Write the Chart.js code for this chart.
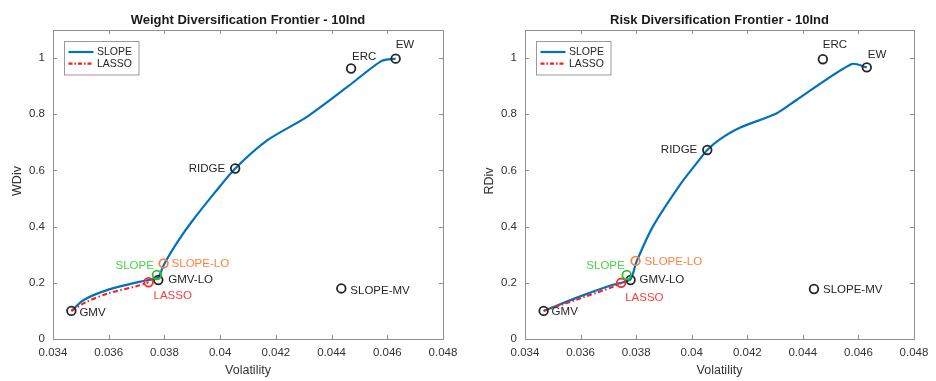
<!DOCTYPE html>
<html><head><meta charset="utf-8">
<script src="https://cdn.jsdelivr.net/npm/chart.js@4/dist/chart.umd.min.js"></script>
<style>
html,body{margin:0;padding:0;background:#fff;}
#wrap{position:relative;width:936px;height:381px;overflow:hidden;}
canvas{position:absolute;top:0;}
</style></head><body>
<div id="wrap">
<canvas id="cW" width="466" height="381" style="left:0"></canvas>
<canvas id="cR" width="470" height="381" style="left:466px"></canvas>
</div>
<script>
// ---------- data ----------
const xTicks = [0.034, 0.036, 0.038, 0.040, 0.042, 0.044, 0.046, 0.048];
const yTicks = [0, 0.2, 0.4, 0.6, 0.8, 1.0];

const portfolioNames = ['GMV', 'GMV-LO', 'LASSO', 'SLOPE', 'SLOPE-LO', 'RIDGE', 'SLOPE-MV', 'ERC', 'EW'];

// Weight diversification frontier
const wSlopeVol = [0.03466, 0.0351, 0.03594, 0.03713, 0.03773, 0.0378, 0.0380, 0.0385, 0.0390, 0.0398, 0.04054, 0.0417, 0.0431, 0.0446, 0.0458, 0.0463];
const wSlopeDiv = [0.100, 0.139, 0.174, 0.204, 0.216, 0.222, 0.268, 0.350, 0.420, 0.520, 0.607, 0.708, 0.790, 0.900, 0.990, 0.998];
const wLassoVol = [0.03466, 0.0352, 0.0360, 0.0370, 0.03743];
const wLassoDiv = [0.100, 0.132, 0.163, 0.188, 0.202];
const wPortVol  = [0.03466, 0.03778, 0.03743, 0.03773, 0.03797, 0.04054, 0.04435, 0.0447, 0.0463];
const wPortDiv  = [0.100, 0.210, 0.202, 0.228, 0.269, 0.607, 0.180, 0.963, 0.998];

// Risk diversification frontier
const rSlopeVol = [0.03467, 0.03594, 0.03713, 0.03779, 0.0380, 0.0386, 0.03957, 0.04017, 0.04056, 0.0410, 0.04173, 0.04305, 0.04376, 0.04576, 0.0463];
const rSlopeDiv = [0.100, 0.150, 0.192, 0.212, 0.272, 0.400, 0.548, 0.625, 0.673, 0.710, 0.752, 0.803, 0.850, 0.979, 0.967];
const rLassoVol = [0.03467, 0.0360, 0.0372, 0.03746];
const rLassoDiv = [0.100, 0.145, 0.187, 0.200];
const rPortVol  = [0.03467, 0.0378, 0.03746, 0.03766, 0.03798, 0.04056, 0.0444, 0.04472, 0.0463];
const rPortDiv  = [0.100, 0.210, 0.200, 0.228, 0.278, 0.673, 0.178, 0.996, 0.967];

// ---------- styles ----------
const FONT = '"Liberation Sans", Arial, Helvetica, sans-serif';
Chart.defaults.font.family = FONT;
const BLUE = '#0072BD', RED = '#FF1A1A';
const markerColors = ['#262626', '#262626', '#FF2A2A', '#2DBE2D', '#FF8040', '#262626', '#262626', '#262626', '#262626'];
const labelColors  = ['#262626', '#262626', '#FF3B3B', '#44D444', '#FF8040', '#262626', '#262626', '#262626', '#262626'];
// label placement: [dx, dy, align]
const wLabelPos = [[8,2,'left'],[10,0,'left'],[5,14,'left'],[-3,-9,'right'],[8,0,'left'],[-10,0,'right'],[9,2,'left'],[1,-12,'left'],[0,-14,'left']];
const rLabelPos = [[8,1,'left'],[9,0,'left'],[4,15,'left'],[-2,-9,'right'],[9,1,'left'],[-10,0,'right'],[9,1,'left'],[0,-14,'left'],[1,-13,'left']];

function pts(xs, ys){ return xs.map((x,i)=>({x:x, y:ys[i]})); }

const decorPlugin = {
  id: 'decor',
  afterDraw(chart){
    const o = chart.options.plugins.decor;
    const ctx = chart.ctx, a = chart.chartArea;
    const xs = chart.scales.x, ys = chart.scales.y;
    ctx.save();
    // box
    ctx.strokeStyle = '#8f8f8f'; ctx.lineWidth = 1;
    ctx.strokeRect(Math.round(a.left)+0.5, Math.round(a.top)+0.5, Math.round(a.right-a.left), Math.round(a.bottom-a.top));
    ctx.beginPath();
    xTicks.forEach(v=>{
      const px = Math.round(xs.getPixelForValue(v))+0.5;
      ctx.moveTo(px, a.bottom); ctx.lineTo(px, a.bottom-4);
      ctx.moveTo(px, a.top); ctx.lineTo(px, a.top+4);
    });
    yTicks.forEach(v=>{
      const py = Math.round(ys.getPixelForValue(v))+0.5;
      ctx.moveTo(a.left, py); ctx.lineTo(a.left+4, py);
      ctx.moveTo(a.right, py); ctx.lineTo(a.right-4, py);
    });
    ctx.stroke();
    // title
    ctx.fillStyle = '#1a1a1a';
    ctx.font = 'bold 13px ' + FONT;
    ctx.textAlign = 'center'; ctx.textBaseline = 'middle';
    ctx.fillText(o.title, (a.left+a.right)/2, 20);
    // axis titles
    ctx.fillStyle = '#333';
    ctx.font = '12.5px ' + FONT;
    ctx.fillText('Volatility', (a.left+a.right)/2, 371);
    ctx.save();
    ctx.translate(a.left - 35, 181);
    ctx.rotate(-Math.PI/2);
    ctx.fillText(o.yTitle, 0, 0);
    ctx.restore();
    // legend
    const lx = a.left + 10.5, ly = 41, lw = 74.5, lh = 33.5;
    ctx.fillStyle = '#fff';
    ctx.fillRect(lx, ly, lw, lh);
    ctx.strokeStyle = '#9a9a9a'; ctx.lineWidth = 1;
    ctx.strokeRect(Math.round(lx)+0.5, ly+0.5, lw, lh);
    const items = [[chart.data.datasets[2].label, BLUE, []], [chart.data.datasets[1].label, RED, [4,2,1.5,2]]];
    ctx.font = '10.5px ' + FONT; ctx.textAlign = 'left';
    items.forEach((it,i)=>{
      const y = ly + 11 + i*11.6;
      ctx.strokeStyle = it[1]; ctx.lineWidth = 2.2; ctx.setLineDash(it[2]);
      ctx.beginPath(); ctx.moveTo(lx+5, y); ctx.lineTo(lx+30, y); ctx.stroke();
      ctx.setLineDash([]);
      ctx.fillStyle = '#262626';
      ctx.fillText(it[0], lx+33.5, y+0.5);
    });
    // point labels
    const meta = chart.getDatasetMeta(0);
    ctx.font = '11.5px ' + FONT; ctx.textBaseline = 'middle';
    meta.data.forEach((el,i)=>{
      const p = o.labelPos[i];
      ctx.fillStyle = labelColors[i];
      ctx.textAlign = p[2];
      ctx.fillText(portfolioNames[i], el.x + p[0], el.y + p[1]);
    });
    ctx.restore();
  }
};

function makeChart(id, title, yTitle, slopeV, slopeD, lassoV, lassoD, portV, portD, labelPos, yAxisW, padRight){
  return new Chart(document.getElementById(id), {
    type: 'scatter',
    data: {
      datasets: [
        { label: 'Portfolios', data: pts(portV, portD), order: 0,
          pointRadius: 4.3, pointHoverRadius: 4.3, pointBorderWidth: 1.8,
          pointBackgroundColor: 'rgba(0,0,0,0)', pointBorderColor: markerColors, showLine: false },
        { label: 'LASSO', data: pts(lassoV, lassoD), order: 1, showLine: true,
          borderColor: RED, borderWidth: 2, borderDash: [5,2.5,1.5,2.5], pointRadius: 0, tension: 0.3 },
        { label: 'SLOPE', data: pts(slopeV, slopeD), order: 2, showLine: true,
          borderColor: BLUE, borderWidth: 2.2, pointRadius: 0, tension: 0.25 }
      ]
    },
    options: {
      responsive: false, animation: false,
      layout: { padding: { top: 30, right: padRight, left: 0, bottom: 0 } },
      plugins: { legend: { display: false }, tooltip: { enabled: false },
        decor: { title: title, yTitle: yTitle, labelPos: labelPos } },
      scales: {
        x: { type: 'linear', min: 0.034, max: 0.048,
          grid: { display: false, drawTicks: false, tickLength: 0 }, border: { display: false },
          afterBuildTicks: s => { s.ticks = xTicks.map(v => ({ value: v })); },
          afterFit: s => { s.height = 42; },
          ticks: { padding: 7, color: '#333', font: { size: 11.5 }, maxRotation: 0, autoSkip: false,
            callback: v => String(parseFloat(Number(v).toFixed(3))) } },
        y: { type: 'linear', min: 0, max: 1.1,
          grid: { display: false, drawTicks: false, tickLength: 0 }, border: { display: false },
          afterBuildTicks: s => { s.ticks = yTicks.map(v => ({ value: v })); },
          afterFit: s => { s.width = yAxisW; },
          ticks: { padding: 8, color: '#333', font: { size: 11.5 }, autoSkip: false,
            callback: v => String(parseFloat(Number(v).toFixed(1))) } }
      }
    },
    plugins: [decorPlugin]
  });
}

makeChart('cW', 'Weight Diversification Frontier - 10Ind', 'WDiv', wSlopeVol, wSlopeDiv, wLassoVol, wLassoDiv, wPortVol, wPortDiv, wLabelPos, 53, 23);
makeChart('cR', 'Risk Diversification Frontier - 10Ind', 'RDiv', rSlopeVol, rSlopeDiv, rLassoVol, rLassoDiv, rPortVol, rPortDiv, rLabelPos, 59, 22);
</script>
</body></html>
